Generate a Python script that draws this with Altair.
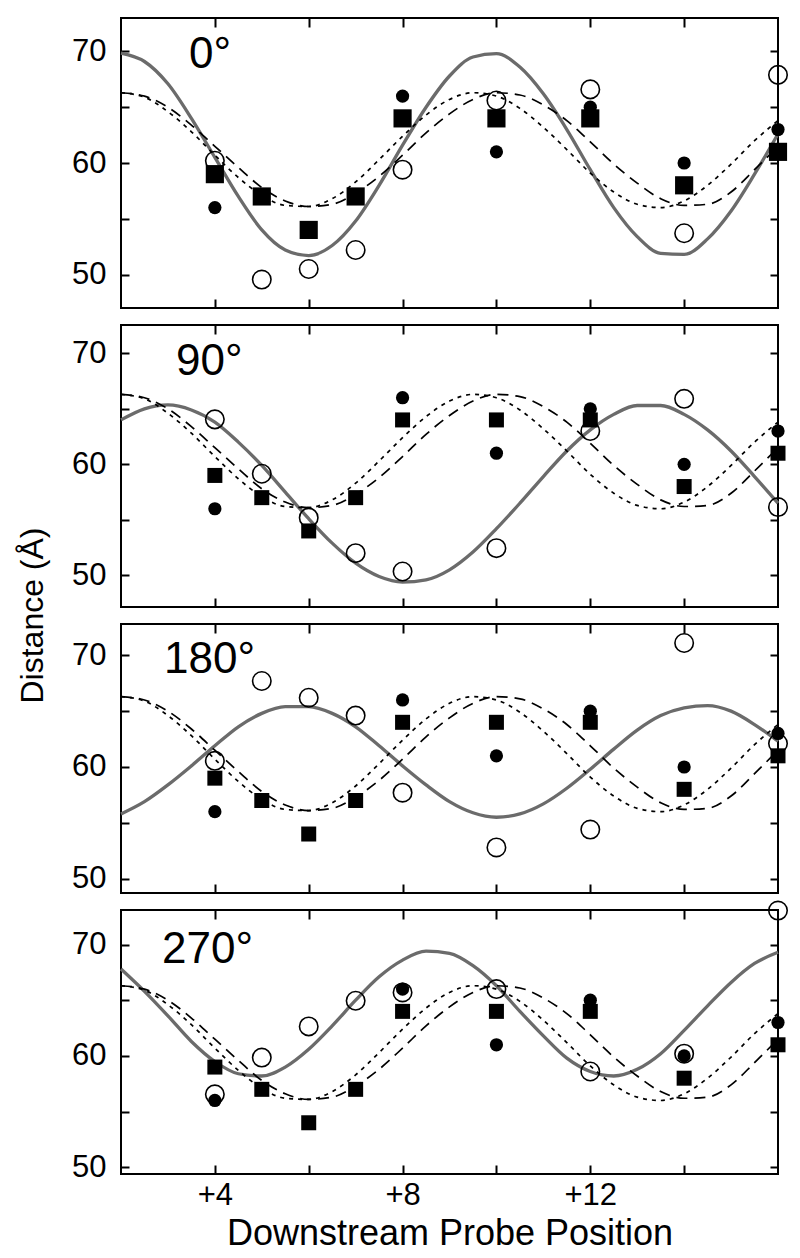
import altair as alt
import pandas as pd

FONT = "Liberation Sans"

# curve sample positions (downstream probe position)
XS = [2.0, 2.5, 3.0, 3.5, 4.0, 4.5, 5.0, 5.5, 6.0, 6.5, 7.0, 7.5, 8.0, 8.5, 9.0,
      9.5, 10.0, 10.5, 11.0, 11.5, 12.0, 12.5, 13.0, 13.5, 14.0, 14.5, 15.0, 15.5, 16.0]

# model curves common to all panels
DASHED = [66.3, 66.0, 65.0, 63.4, 61.5, 59.6, 57.8, 56.6, 56.1, 56.3, 57.3, 58.8, 60.7, 62.7, 64.4,
          65.7, 66.3, 66.1, 65.2, 63.8, 61.9, 59.9, 58.2, 56.8, 56.2, 56.3, 57.4, 59.4, 61.5]
DOTTED = [66.3, 65.9, 64.6, 62.8, 60.7, 58.7, 57.1, 56.2, 56.1, 56.8, 58.3, 60.3, 62.4, 64.3, 65.7,
          66.3, 66.0, 64.9, 63.2, 61.2, 59.1, 57.4, 56.3, 56.0, 56.6, 58.0, 59.9, 62.0, 63.8]

# solid grey curves, one per angle
SOLID_0 = [69.85, 69.1, 67.1, 64.0, 60.5, 57.0, 54.0, 52.2, 51.7, 52.6, 54.8, 58.0, 61.6, 65.0, 67.8,
           69.5, 69.8, 68.6, 66.2, 63.0, 59.4, 56.0, 53.4, 51.9, 51.8, 53.2, 55.7, 59.0, 62.6]
SOLID_90 = [64.0, 65.0, 65.35, 64.9, 63.8, 62.0, 59.9, 57.5, 55.1, 52.9, 51.1, 49.9, 49.4, 49.6, 50.5,
            52.1, 54.2, 56.5, 58.9, 61.2, 63.1, 64.5, 65.3, 65.3, 64.5, 63.1, 61.2, 58.9, 56.5]
SOLID_180 = [55.8, 56.9, 58.4, 60.1, 61.9, 63.6, 64.8, 65.4, 65.4, 64.8, 63.6, 61.9, 60.1, 58.4, 56.9,
             55.9, 55.5, 55.8, 56.7, 58.1, 59.8, 61.6, 63.3, 64.6, 65.3, 65.5, 65.0, 63.8, 62.3]
SOLID_270 = [67.8, 65.8, 63.6, 61.3, 59.5, 58.4, 58.2, 59.0, 60.6, 62.7, 65.0, 67.1, 68.6, 69.4, 69.2,
             68.1, 66.3, 64.0, 61.8, 59.8, 58.6, 58.2, 58.8, 60.2, 62.3, 64.5, 66.6, 68.3, 69.3]

# measured data
PROBE = [4, 5, 6, 7, 8, 10, 12, 14, 16]
FILLED_CIRCLE = [56, 57, 54, 57, 66, 61, 65, 60, 63]
FILLED_SQUARE = [59, 57, 54, 57, 64, 64, 64, 58, 61]
OPEN_0 = [60.2, 49.55, 50.5, 52.2, 59.4, 65.6, 66.6, 53.7, 67.9]
OPEN_90 = [64.05, 59.15, 55.2, 52.0, 50.35, 52.45, 63.0, 65.9, 56.15]
OPEN_180 = [60.55, 67.7, 66.2, 64.6, 57.7, 52.8, 54.4, 71.1, 62.1]
OPEN_270 = [56.55, 59.85, 62.65, 64.95, 65.7, 66.0, 58.6, 60.2, 73.05]

LABELS = ["0°", "90°", "180°", "270°"]
SOLIDS = [SOLID_0, SOLID_90, SOLID_180, SOLID_270]
OPENS = [OPEN_0, OPEN_90, OPEN_180, OPEN_270]
YDOMAINS = [[47.0, 73.0], [47.15, 72.55], [48.72, 72.8], [49.4, 73.1]]
HEIGHTS = [290, 282, 269, 264]
SQ_SIZES = [330, 225, 225, 225]
LABEL_POS = [(68, 50), (55, 50), (43, 49), (41, 53)]

W = 657
XT = [4, 6, 8, 10, 12, 14]
YT = [50, 55, 60, 65, 70]


def panel(i):
    last = i == 3
    n = len(XS)
    curves = pd.DataFrame({
        "x": XS * 3,
        "y": SOLIDS[i] + DASHED + DOTTED,
        "series": ["solid"] * n + ["dashed"] * n + ["dotted"] * n,
    })
    pts = pd.DataFrame({"x": PROBE, "open": OPENS[i], "circ": FILLED_CIRCLE, "sq": FILLED_SQUARE})
    xs = alt.Scale(domain=[2, 16], nice=False, zero=False)
    ys = alt.Scale(domain=YDOMAINS[i], nice=False, zero=False)

    xb = alt.Axis(orient="bottom", values=XT, tickSize=9, offset=-9, domain=False, grid=False,
                  labels=last, labelPadding=6,
                  labelExpr="datum.value % 4 === 0 ? '+' + datum.label : ''",
                  title="Downstream Probe Position" if last else None, titlePadding=6,
                  titleFontSize=36)
    yl = alt.Axis(orient="left", values=YT, tickSize=8, offset=-8, domain=False, grid=False,
                  labelPadding=15, labelExpr="datum.value % 10 === 0 ? datum.label : ''",
                  title="Distance (Å)" if i == 1 else None, titlePadding=22,
                  titleFontSize=32,
                  **({"titleY": 290} if i == 1 else {}))
    xt = alt.Axis(orient="top", values=XT, tickSize=9, offset=-9, domain=False, grid=False,
                  labels=False, title=None)
    yr = alt.Axis(orient="right", values=YT, tickSize=8, offset=-8, domain=False, grid=False,
                  labels=False, title=None)

    base = alt.Chart(curves)
    solid = base.transform_filter("datum.series === 'solid'").mark_line(
        color="#6b6b6b", strokeWidth=3.3, interpolate="monotone").encode(
        x=alt.X("x:Q", scale=xs, axis=xb), y=alt.Y("y:Q", scale=ys, axis=yl))
    dashed = base.transform_filter("datum.series === 'dashed'").mark_line(
        color="black", strokeWidth=1.7, strokeDash=[11, 7], interpolate="monotone").encode(
        x=alt.X("x:Q", scale=xs, axis=None), y=alt.Y("y:Q", scale=ys, axis=None))
    dotted = base.transform_filter("datum.series === 'dotted'").mark_line(
        color="black", strokeWidth=1.7, strokeDash=[4, 5], interpolate="monotone").encode(
        x=alt.X("x:Q", scale=xs, axis=None), y=alt.Y("y:Q", scale=ys, axis=None))

    pbase = alt.Chart(pts)
    opens = pbase.mark_point(shape="circle", filled=False, stroke="black", strokeWidth=1.6,
                             size=340, opacity=1).encode(
        x=alt.X("x:Q", scale=xs, axis=xt), y=alt.Y("open:Q", scale=ys, axis=yr))
    squares = pbase.mark_square(color="black", size=SQ_SIZES[i], opacity=1).encode(
        x=alt.X("x:Q", scale=xs, axis=None), y=alt.Y("sq:Q", scale=ys, axis=None))
    circles = pbase.mark_circle(color="black", size=175, opacity=1).encode(
        x=alt.X("x:Q", scale=xs, axis=None), y=alt.Y("circ:Q", scale=ys, axis=None))

    lx, ly = LABEL_POS[i]
    label = alt.Chart(pd.DataFrame({"t": [LABELS[i]]})).mark_text(
        align="left", baseline="alphabetic", fontSize=44, font=FONT, color="black").encode(
        x=alt.value(lx), y=alt.value(ly), text="t:N")

    return alt.layer(solid, dashed, dotted, opens, squares, circles, label).resolve_axis(
        x="independent", y="independent").properties(width=W, height=HEIGHTS[i])


panels = [panel(i) for i in range(4)]
chart = alt.vconcat(*panels, spacing=17, bounds="flush").properties(
    padding={"left": 7, "top": 8, "right": 0, "bottom": 0}
).configure_view(
    stroke="black", strokeWidth=2
).configure_axis(
    labelFont=FONT, titleFont=FONT, labelFontSize=31, titleFontSize=35,
    titleFontWeight="normal", labelColor="black", titleColor="black",
    tickColor="black", tickWidth=2
)

chart.save("out.html", embed_options={"renderer": "svg", "actions": False})
